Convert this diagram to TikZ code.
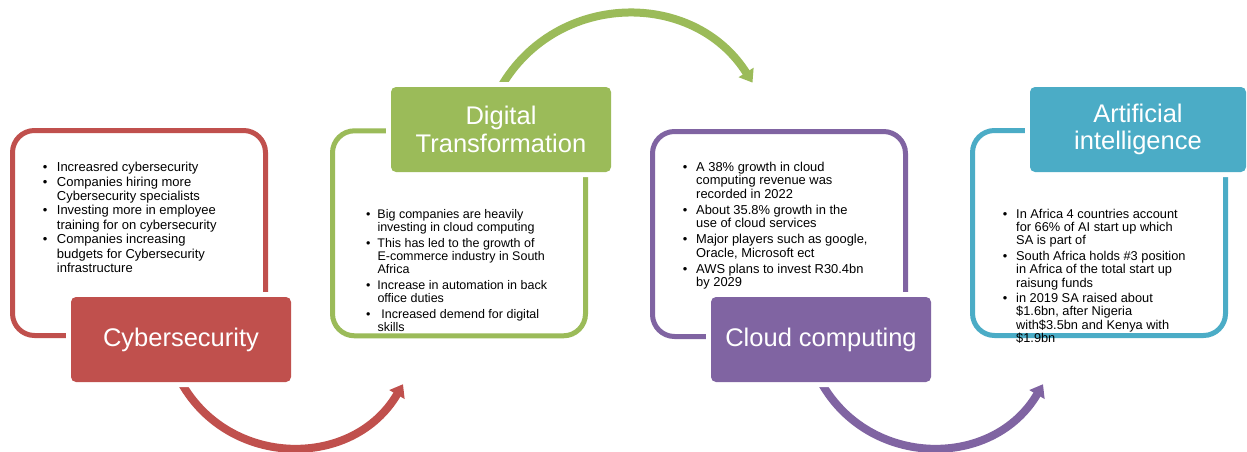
\documentclass[tikz,border=0pt]{standalone}
\usepackage{fontspec}
\setmainfont{Liberation Sans}
\usetikzlibrary{arrows.meta}
\definecolor{cred}{HTML}{C0504D}
\definecolor{cgreen}{HTML}{9BBB59}
\definecolor{cpurple}{HTML}{8064A2}
\definecolor{cblue}{HTML}{4BACC6}
\pgfdeclarelayer{bg}
\pgfsetlayers{bg,main}
\newcommand\bu[1]{\makebox[#1][l]{\textbullet}}
\newcommand\ind[1]{\hspace*{#1}}
\begin{document}
\begin{tikzpicture}[x=1pt,y=-1pt,
  outline/.style={draw=#1, line width=5pt, rounded corners=22pt, fill=white,
    minimum width=253pt, minimum height=205pt, inner sep=0pt},
  titlebox/.style={fill=#1, rounded corners=5pt, text=white,
    minimum width=220pt, minimum height=85pt, inner sep=0pt, align=center,
    font=\fontsize{25.5}{27.7}\selectfont,
    preaction={draw=white, line width=10pt}},
  bodytext/.style={anchor=base west, inner sep=0pt, text=black},
  flow/.style={draw=#1, line width=8pt, -{Triangle[width=17pt,length=12pt]}}]
\useasboundingbox (0,0) rectangle (1247,452);

% panels
\node[outline=cred]    (p1) at (139,233) {};
\node[outline=cgreen]  (p2) at (459,233.3) {};
\node[outline=cpurple] (p3) at (779,234) {};
\node[outline=cblue]   (p4) at (1099,233) {};

% title boxes
\node[titlebox=cred]    (cyb) at (181,339.5) {Cybersecurity};
\node[titlebox=cgreen]  (dig) at (501,129.5) {Digital\\Transformation};
\node[titlebox=cpurple] (cld) at (821,339.5) {Cloud computing};
\node[titlebox=cblue, minimum width=216pt] (ai) at (1138,129.5) {Artificial\\intelligence};

% body texts
\node[bodytext, font=\fontsize{13}{14.4}\selectfont] (t1) at (42.7,171.7) {%
\begin{tabular}[t]{@{}l@{}}
\bu{14pt}Increasred cybersecurity\\
\bu{14pt}Companies hiring more\\
\ind{14pt}Cybersecurity specialists\\
\bu{14pt}Investing more in employee\\
\ind{14pt}training for on cybersecurity\\
\bu{14pt}Companies increasing\\
\ind{14pt}budgets for Cybersecurity\\
\ind{14pt}infrastructure
\end{tabular}};

\node[bodytext, font=\fontsize{12.5}{12.8}\selectfont] (t2) at (366,218.3) {%
\begin{tabular}[t]{@{}l@{}}
\bu{11.3pt}Big companies are heavily\\
\ind{11.3pt}investing in cloud computing\\[3.2pt]
\bu{11.3pt}This has led to the growth of\\
\ind{11.3pt}E-commerce industry in South\\
\ind{11.3pt}Africa\\[3.2pt]
\bu{11.3pt}Increase in automation in back\\
\ind{11.3pt}office duties\\[3.2pt]
\bu{11.3pt}\hspace{4pt}Increased demend for digital\\
\ind{11.3pt}skills
\end{tabular}};

\node[bodytext, font=\fontsize{12.9}{13.3}\selectfont] (t3) at (682.7,171.6) {%
\begin{tabular}[t]{@{}l@{}}
\bu{13.3pt}A 38\% growth in cloud\\
\ind{13.3pt}computing revenue was\\
\ind{13.3pt}recorded in 2022\\[2.7pt]
\bu{13.3pt}About 35.8\% growth in the\\
\ind{13.3pt}use of cloud services\\[2.7pt]
\bu{13.3pt}Major players such as google,\\
\ind{13.3pt}Oracle, Microsoft ect\\[2.7pt]
\bu{13.3pt}AWS plans to invest R30.4bn\\
\ind{13.3pt}by 2029
\end{tabular}};

\node[bodytext, font=\fontsize{12.8}{13.3}\selectfont] (t4) at (1002.7,218.3) {%
\begin{tabular}[t]{@{}l@{}}
\bu{13.3pt}In Africa 4 countries account\\
\ind{13.3pt}for 66\% of AI start up which\\
\ind{13.3pt}SA is part of\\[2.2pt]
\bu{13.3pt}South Africa holds \#3 position\\
\ind{13.3pt}in Africa of the total start up\\
\ind{13.3pt}raisung funds\\[2.2pt]
\bu{13.3pt}in 2019 SA raised about\\
\ind{13.3pt}\$1.6bn, after Nigeria\\
\ind{13.3pt}with\$3.5bn and Kenya with\\
\ind{13.3pt}\$1.9bn
\end{tabular}};

% arrow ends
\coordinate (e1) at (403,384.2);
\coordinate (e2) at (752.5,82.6);
\coordinate (e3) at (1043,384.2);

\begin{pgfonlayer}{bg}
\fill[white] (0,0) rectangle (1247,452);
\draw[flow=cred] (cyb.south) .. controls +(48.2,86.3) and +(-49.9,85.3) .. (e1);
\draw[flow=cgreen] (dig.north) .. controls +(55.6,-95.6) and +(-59.1,-93.5) .. (e2);
\draw[flow=cpurple] (cld.south) .. controls +(48.2,86.3) and +(-49.9,85.3) .. (e3);
\end{pgfonlayer}
\end{tikzpicture}
\end{document}
